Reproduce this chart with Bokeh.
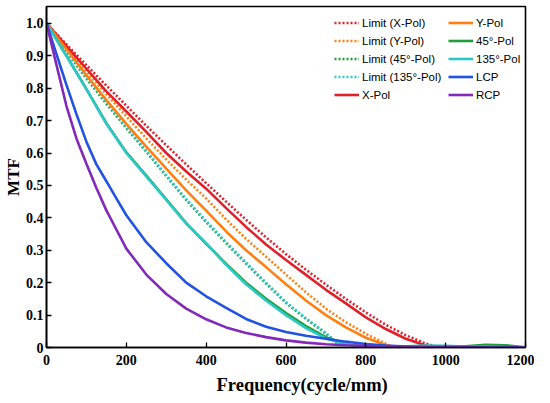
from bokeh.plotting import figure
from bokeh.models import Legend, LegendItem, FixedTicker, Range1d, Title
from bokeh.embed import file_html
from bokeh.resources import INLINE

# ---------------- data ----------------
freq = [0, 50, 100, 150, 200, 250, 300, 350, 400, 450, 500, 550, 600,
        650, 700, 750, 800, 850, 900, 950, 1000, 1050, 1100, 1150, 1200]

lim_x_freq = [0, 50, 100, 150, 200, 250, 300, 350, 400, 450, 500, 550, 600,
              650, 700, 750, 800, 850, 900, 950, 985]
lim_x = [1.0, 0.935, 0.871, 0.808, 0.746, 0.684, 0.624, 0.565, 0.507, 0.45,
         0.394, 0.34, 0.288, 0.24, 0.194, 0.15, 0.108, 0.07, 0.038, 0.012, 0.0]

lim_y_freq = [0, 50, 100, 150, 200, 250, 300, 350, 400, 450, 500, 550, 600,
              650, 700, 750, 800, 850, 870]
lim_y = [1.0, 0.925, 0.852, 0.782, 0.713, 0.645, 0.58, 0.518, 0.46, 0.395,
         0.335, 0.28, 0.225, 0.17, 0.12, 0.078, 0.042, 0.012, 0.0]

lim_45_freq = [0, 50, 100, 150, 200, 250, 300, 350, 400, 450, 500, 550, 600,
               650, 700, 740]
lim_45 = [1.0, 0.913, 0.83, 0.752, 0.677, 0.604, 0.529, 0.455, 0.387, 0.322,
          0.259, 0.197, 0.138, 0.088, 0.043, 0.0]

lim_135_freq = [0, 50, 100, 150, 200, 250, 300, 350, 400, 450, 500, 550, 600,
                650, 700, 740]
lim_135 = [1.0, 0.915, 0.835, 0.758, 0.682, 0.607, 0.532, 0.458, 0.39, 0.325,
           0.262, 0.2, 0.14, 0.09, 0.045, 0.0]

x_pol_freq = [0, 50, 100, 150, 200, 250, 300, 350, 400, 450, 500, 550, 600,
              650, 700, 750, 800, 850, 900, 950, 975]
x_pol = [1.0, 0.93, 0.86, 0.79, 0.728, 0.665, 0.6, 0.543, 0.49, 0.43,
         0.372, 0.318, 0.27, 0.224, 0.178, 0.136, 0.093, 0.057, 0.027, 0.006, 0.0]

y_pol_freq = [0, 50, 100, 150, 200, 250, 300, 350, 400, 450, 500, 550, 600,
              650, 700, 750, 800, 850, 880]
y_pol = [1.0, 0.92, 0.84, 0.763, 0.69, 0.62, 0.552, 0.485, 0.422, 0.358,
         0.3, 0.248, 0.195, 0.145, 0.1, 0.062, 0.03, 0.008, 0.0]

pol_45 = [1.0, 0.9, 0.797, 0.692, 0.602, 0.53, 0.457, 0.384, 0.32, 0.258,
          0.2, 0.15, 0.106, 0.066, 0.032, 0.01, 0.0, 0.0, 0.001, 0.002,
          0.002, 0.004, 0.008, 0.007, 0.001]
pol_135 = [1.0, 0.9, 0.797, 0.69, 0.6, 0.528, 0.455, 0.382, 0.322, 0.255,
           0.195, 0.145, 0.1, 0.06, 0.028, 0.01, 0.003, 0.001, 0.004, 0.006,
           0.005, 0.003, 0.002, 0.001, 0.0]

circ_freq = [0, 25, 50, 75, 100, 125, 150, 175, 200, 250, 300, 350, 400, 450,
             500, 550, 600, 650, 700, 750, 800, 850, 900, 950, 1000, 1050,
             1100, 1150, 1200]
lcp = [1.0, 0.905, 0.81, 0.72, 0.635, 0.565, 0.513, 0.46, 0.408, 0.325, 0.26,
       0.2, 0.158, 0.122, 0.088, 0.064, 0.048, 0.036, 0.027, 0.018, 0.011,
       0.006, 0.003, 0.002, 0.002, 0.002, 0.001, 0.001, 0.0]
rcp = [1.0, 0.872, 0.745, 0.645, 0.567, 0.492, 0.423, 0.364, 0.305, 0.225,
       0.165, 0.12, 0.087, 0.062, 0.045, 0.032, 0.022, 0.015, 0.01, 0.007,
       0.005, 0.003, 0.002, 0.001, 0.001, 0.0, 0.0, 0.0, 0.0]

x_ticks = [0, 200, 400, 600, 800, 1000, 1200]
y_ticks = [0, 0.1, 0.2, 0.3, 0.4, 0.5, 0.6, 0.7, 0.8, 0.9, 1.0]
y_tick_labels = ["0", "0.1", "0.2", "0.3", "0.4", "0.5", "0.6", "0.7", "0.8", "0.9", "1.0"]

RED = "#e0202a"
ORANGE = "#ff7f10"
GREEN = "#1f9e3a"
CYAN = "#2cc8c8"
BLUE = "#2153e0"
PURPLE = "#8229bb"

SERIF = "Liberation Serif"
SANS = "Liberation Sans"

# ---------------- figure ----------------
p = figure(width=534, height=400, output_backend="svg", toolbar_location=None,
           x_range=Range1d(0, 1200), y_range=Range1d(0, 1.052),
           min_border_left=40, min_border_right=9, min_border_top=6,
           min_border_bottom=52)
p.grid.visible = False
p.outline_line_color = "black"
p.outline_line_width = 1.6

for ax in (p.xaxis[0], p.yaxis[0]):
    ax.axis_line_width = 1.6
    ax.axis_line_color = "black"
    ax.major_label_text_font = SERIF
    ax.major_label_text_font_style = "bold"
    ax.major_label_text_font_size = "14px"
    ax.major_label_text_color = "black"
    ax.axis_label_text_font = SERIF
    ax.axis_label_text_font_style = "bold"
    ax.axis_label_text_font_size = "17px"
    ax.axis_label_text_color = "black"
    ax.minor_tick_line_color = None
    ax.major_tick_line_width = 1.3
    ax.major_tick_line_color = "black"

p.xaxis.ticker = FixedTicker(ticks=x_ticks)
p.xaxis.major_tick_in = 5
p.xaxis.major_tick_out = 0
p.xaxis.major_label_standoff = 7

p.yaxis.ticker = FixedTicker(ticks=y_ticks)
p.yaxis.major_label_overrides = {t: s for t, s in zip(y_ticks, y_tick_labels)}
p.yaxis.major_tick_in = 5
p.yaxis.major_tick_out = 0
p.yaxis.major_label_standoff = 3
p.yaxis.axis_label = "MTF"
p.yaxis.axis_label_standoff = 0

xtitle = Title(text="Frequency(cycle/mm)", align="left", offset=170,
               text_font=SERIF, text_font_style="bold", text_font_size="18.5px",
               text_color="black", standoff=11)
p.add_layout(xtitle, "below")

DOT = "2 2"
W_DOT = 2.6
W_SOL = 2.6

r_lx = p.line(lim_x_freq, lim_x, color=RED, line_width=W_DOT, line_dash=DOT)
r_ly = p.line(lim_y_freq, lim_y, color=ORANGE, line_width=W_DOT, line_dash=DOT)
r_l45 = p.line(lim_45_freq, lim_45, color=GREEN, line_width=W_DOT, line_dash=DOT)
r_l135 = p.line(lim_135_freq, lim_135, color=CYAN, line_width=W_DOT, line_dash=DOT)
r_x = p.line(x_pol_freq, x_pol, color=RED, line_width=W_SOL)
r_y = p.line(y_pol_freq, y_pol, color=ORANGE, line_width=W_SOL)
r_45 = p.line(freq, pol_45, color=GREEN, line_width=W_SOL)
r_135 = p.line(freq, pol_135, color=CYAN, line_width=W_SOL)
r_lcp = p.line(circ_freq, lcp, color=BLUE, line_width=W_SOL)
r_rcp = p.line(circ_freq, rcp, color=PURPLE, line_width=W_SOL)


def make_legend(items, x, y):
    lg = Legend(items=items, location=(x, y), orientation="vertical")
    lg.border_line_color = None
    lg.background_fill_alpha = 0
    lg.padding = 0
    lg.margin = 0
    lg.spacing = 1
    lg.label_height = 17
    lg.glyph_height = 17
    lg.glyph_width = 25
    lg.label_standoff = 3
    lg.label_text_font = SANS
    lg.label_text_font_size = "11.5px"
    lg.label_text_color = "black"
    return lg


leg1 = make_legend([
    LegendItem(label="Limit (X-Pol)", renderers=[r_lx]),
    LegendItem(label="Limit (Y-Pol)", renderers=[r_ly]),
    LegendItem(label="Limit (45°-Pol)", renderers=[r_l45]),
    LegendItem(label="Limit (135°-Pol)", renderers=[r_l135]),
    LegendItem(label="X-Pol", renderers=[r_x]),
], 288, 244)
leg2 = make_legend([
    LegendItem(label="Y-Pol", renderers=[r_y]),
    LegendItem(label="45°-Pol", renderers=[r_45]),
    LegendItem(label="135°-Pol", renderers=[r_135]),
    LegendItem(label="LCP", renderers=[r_lcp]),
    LegendItem(label="RCP", renderers=[r_rcp]),
], 402, 244)
p.add_layout(leg1, "center")
p.add_layout(leg2, "center")

open("out.html", "w").write(file_html(p, INLINE))
